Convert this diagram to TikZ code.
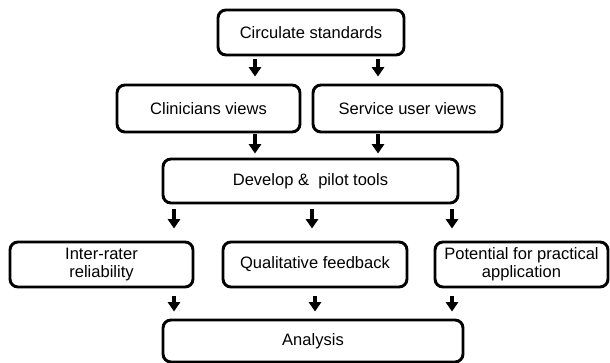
\documentclass[tikz,border=0pt]{standalone}
\usepackage{fontspec}
\setmainfont{Liberation Sans}
\usetikzlibrary{arrows.meta}

\tikzset{
  stagebox/.style={draw,line width=2.2pt,rounded corners=6pt,align=center,
    minimum height=33.75pt,inner sep=2pt,
    font=\fontsize{12.4}{13.8}\selectfont},
  flowarrow/.style={line width=2.4pt,-{Triangle[width=9pt,length=7pt]}}
}

\begin{document}
\begin{tikzpicture}[x=0.75pt,y=-0.75pt]
\useasboundingbox (0,0) rectangle (610,363);
\node[stagebox,minimum width=139.5pt] (circ) at (311,32.5) {Circulate standards};
\node[stagebox,minimum width=137.25pt,minimum height=35.25pt] (clin) at (208.5,108.5) {Clinicians views};
\node[stagebox,minimum width=141.75pt,minimum height=35.25pt] (serv) at (407.5,108.5) {Service user views};
\node[stagebox,minimum width=221.25pt,minimum height=33pt] (dev) at (310.5,181) {Develop \& \ pilot tools};
\node[stagebox,minimum width=137.25pt] (irr) at (101.5,264.5) {Inter-rater\\reliability};
\node[stagebox,minimum width=138pt] (qual) at (315,264.5) {Qualitative feedback};
\node[stagebox,minimum width=129.75pt] (pot) at (521.5,264.5) {Potential for practical\\application};
\node[stagebox,minimum width=225pt,minimum height=31.5pt] (ana) at (313,341) {Analysis};
\draw[flowarrow,shorten <=2.25pt,shorten >=5.25pt] (circ.south -| 255,0) -- (clin.north -| 255,0);
\draw[flowarrow,shorten <=2.25pt,shorten >=5.25pt] (circ.south -| 378,0) -- (serv.north -| 378,0);
\draw[flowarrow,shorten <=0.75pt,shorten >=3pt] (clin.south -| 255,0) -- (dev.north -| 255,0);
\draw[flowarrow,shorten <=0.75pt,shorten >=3pt] (serv.south -| 378,0) -- (dev.north -| 378,0);
\draw[flowarrow,shorten <=3.75pt,shorten >=9pt] (dev.south -| 174,0) -- (irr.north -| 174,0);
\draw[flowarrow,shorten <=3.75pt,shorten >=9pt] (dev.south -| 312,0) -- (qual.north -| 312,0);
\draw[flowarrow,shorten <=3.75pt,shorten >=9pt] (dev.south -| 452,0) -- (pot.north -| 452,0);
\draw[flowarrow,shorten <=6pt,shorten >=5.25pt] (irr.south -| 174,0) -- (ana.north -| 174,0);
\draw[flowarrow,shorten <=6pt,shorten >=5.25pt] (qual.south -| 315,0) -- (ana.north -| 315,0);
\draw[flowarrow,shorten <=6pt,shorten >=5.25pt] (pot.south -| 452,0) -- (ana.north -| 452,0);
\end{tikzpicture}
\end{document}
